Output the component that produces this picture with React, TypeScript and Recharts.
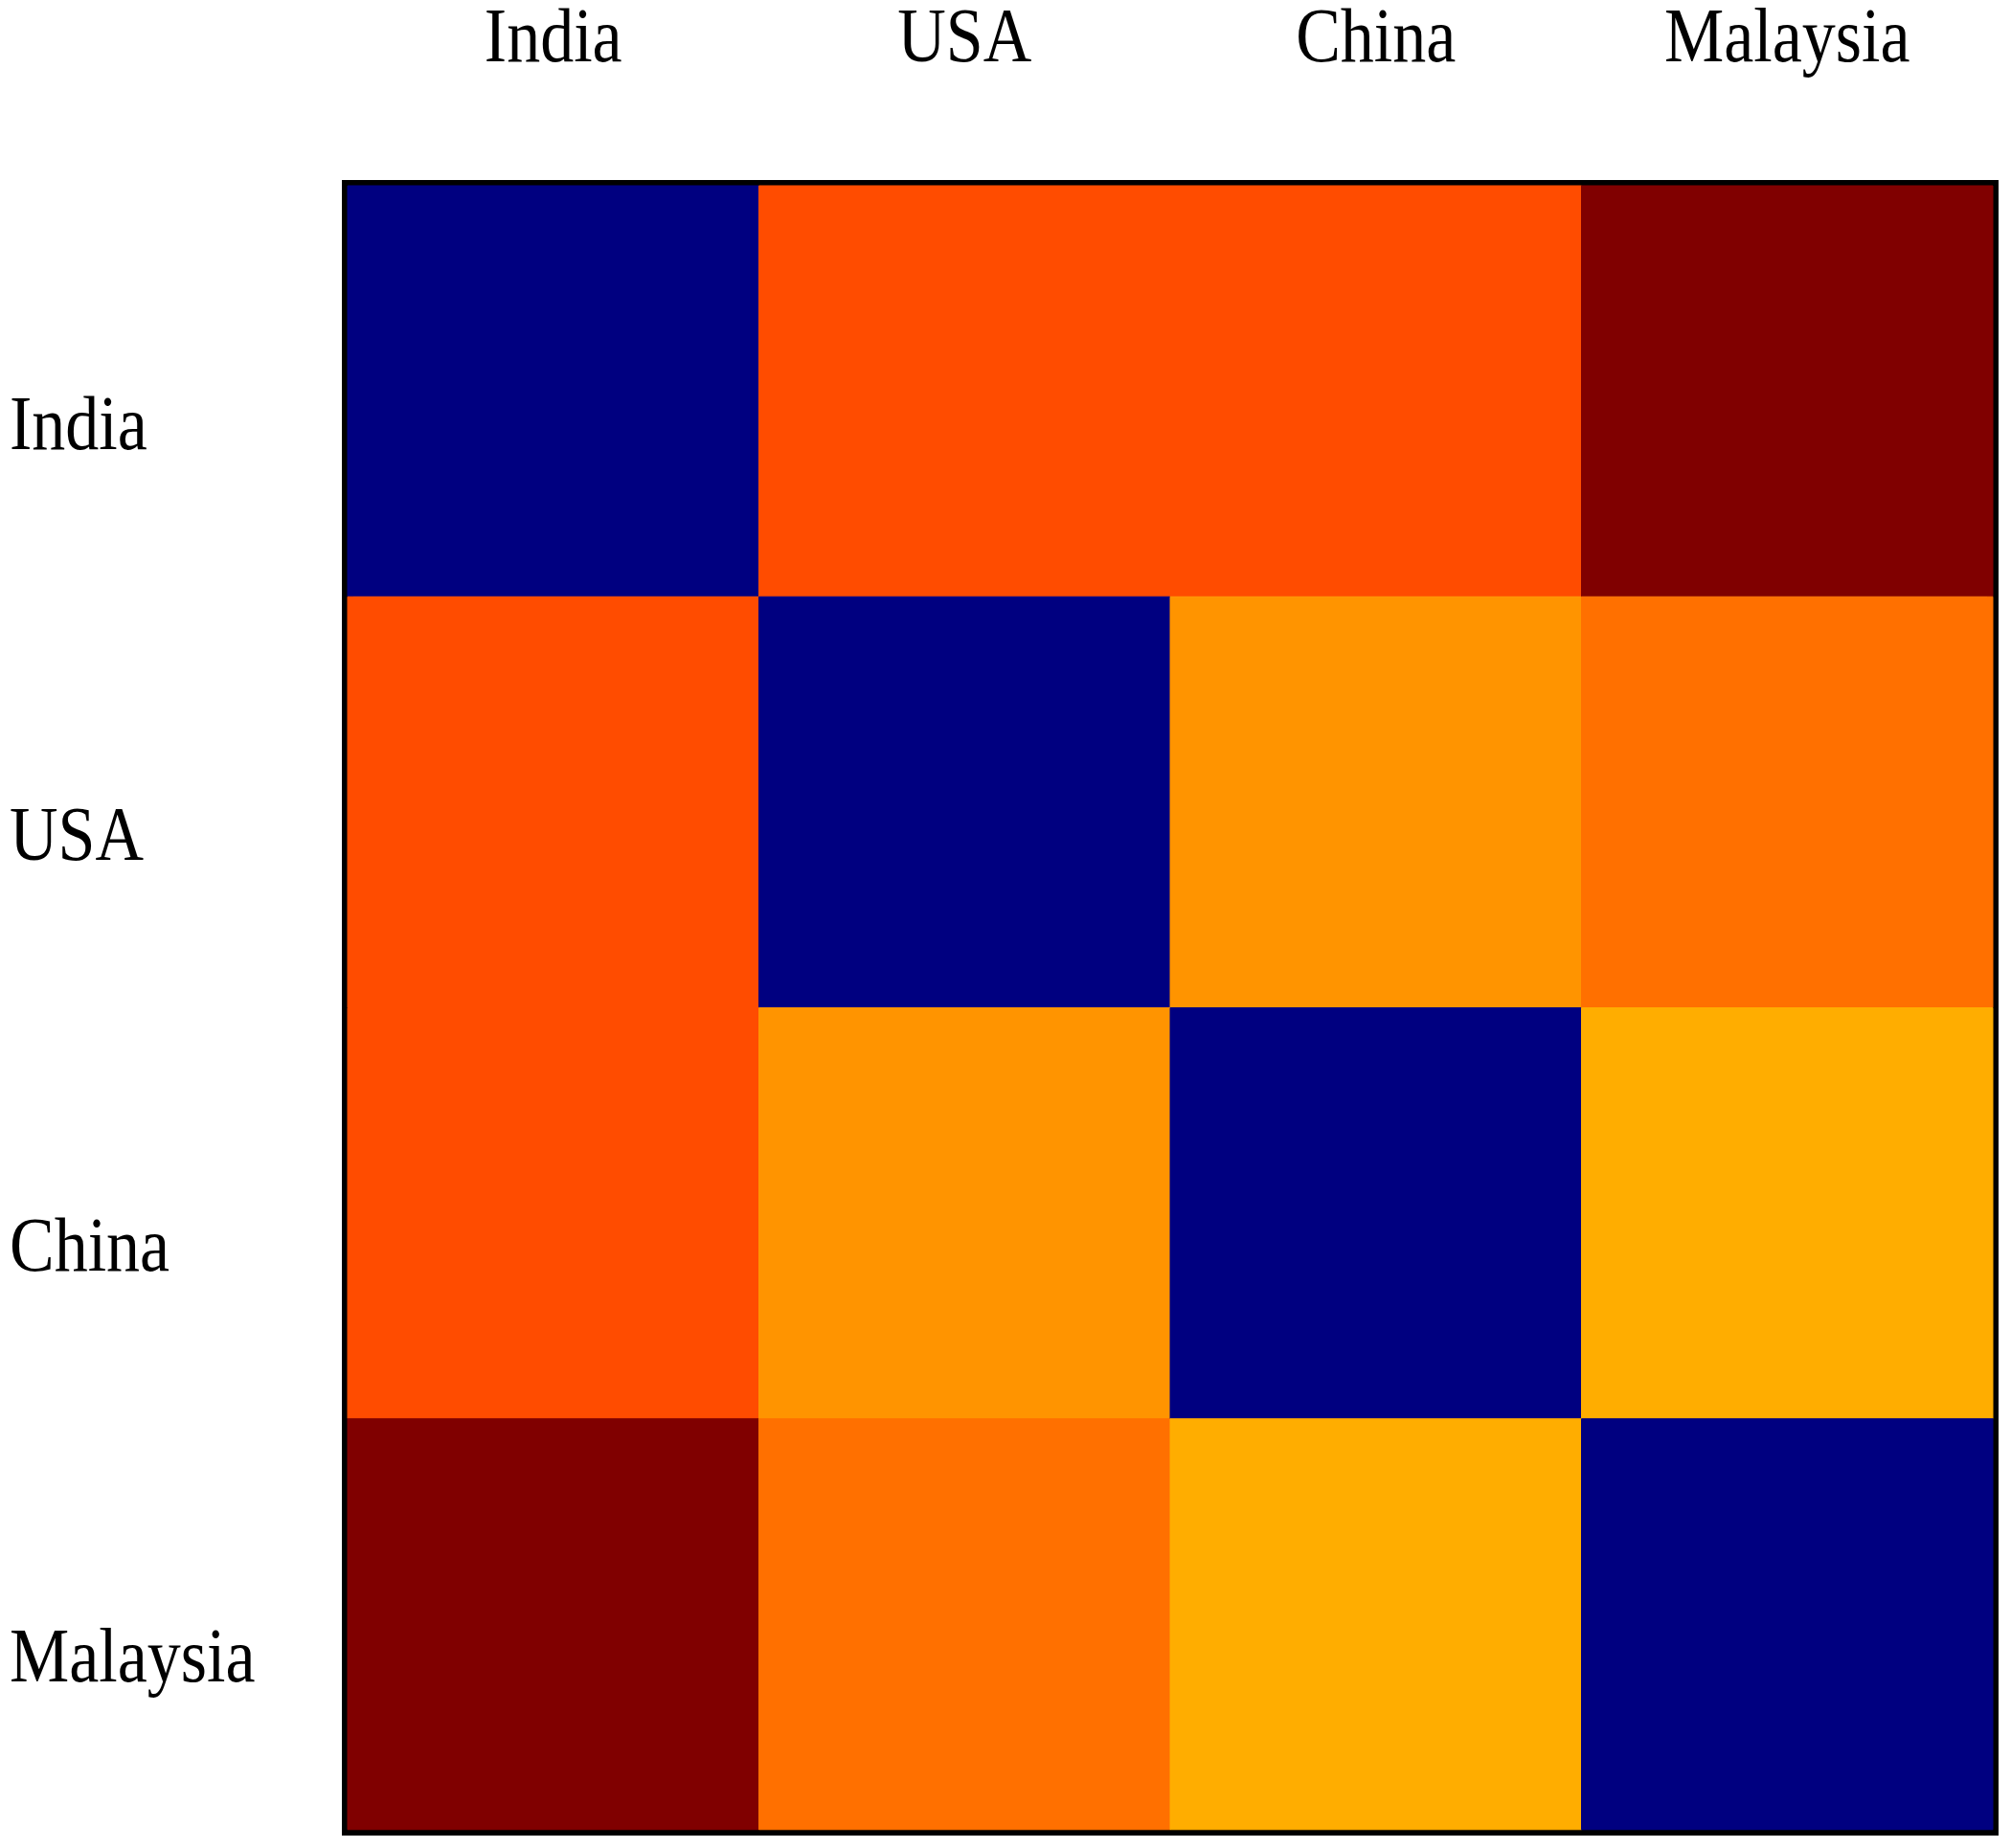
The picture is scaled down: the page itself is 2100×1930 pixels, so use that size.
import React from 'react';
import { BarChart, Bar, XAxis, YAxis, Cell, ReferenceArea } from 'recharts';

const countries = ['India', 'USA', 'China', 'Malaysia'];
// dissimilarity values (0 = identical, 1 = most different)
const indiaRow = [0, 0.8, 0.8, 1.0];
const usaRow = [0.8, 0, 0.73, 0.765];
const chinaRow = [0.8, 0.73, 0, 0.705];
const malaysiaRow = [1.0, 0.765, 0.705, 0];
const matrix = [indiaRow, usaRow, chinaRow, malaysiaRow];
const columnTicks = [0.5, 1.5, 2.5, 3.5];

const clamp = (v: number) => Math.max(0, Math.min(1, v));
const jet = (v: number) => {
  const r = clamp(1.5 - Math.abs(4 * v - 3));
  const g = clamp(1.5 - Math.abs(4 * v - 2));
  const b = clamp(1.5 - Math.abs(4 * v - 1));
  const h = (x: number) => Math.round(x * 255).toString(16).padStart(2, '0');
  return `#${h(r)}${h(g)}${h(b)}`;
};

const data = countries.map((name) => {
  const row: Record<string, any> = { name };
  countries.forEach((_, j) => {
    row[`c${j}`] = 1;
  });
  return row;
});

const FONT = '"Liberation Serif", "Times New Roman", serif';

const TopTick = (props: any) => {
  const { x, y, payload } = props;
  return (
    <g transform={`translate(${x},${y - 122}) scale(1,1.15)`}>
      <text x={0} y={0} textAnchor="middle" fontFamily={FONT} fontSize={70} fill="#000">
        {countries[Math.floor(payload.value)]}
      </text>
    </g>
  );
};

const LeftTick = (props: any) => {
  const { y, payload } = props;
  return (
    <g transform={`translate(10,${y + 60}) scale(1,1.15)`}>
      <text x={0} y={0} textAnchor="start" fontFamily={FONT} fontSize={70} fill="#000">
        {payload.value}
      </text>
    </g>
  );
};

export default function App() {
  return (
    <div style={{ position: 'absolute', left: 0, top: 0, width: 2100, height: 1930, background: '#fff' }}>
      <BarChart
        width={2100}
        height={1930}
        data={data}
        layout="vertical"
        barCategoryGap={0}
        barGap={0}
        margin={{ top: 0, right: 19, bottom: 19, left: 0 }}
      >
        <XAxis
          type="number"
          orientation="top"
          domain={[0, 4]}
          ticks={columnTicks}
          height={194}
          axisLine={false}
          tickLine={false}
          tick={<TopTick />}
          interval={0}
        />
        <YAxis
          type="category"
          dataKey="name"
          width={363}
          axisLine={false}
          tickLine={false}
          tick={<LeftTick />}
          interval={0}
        />
        <ReferenceArea
          x1={0}
          x2={4}
          y1="India"
          y2="Malaysia"
          fill="none"
          fillOpacity={0}
          stroke="#000"
          strokeWidth={12}
          ifOverflow="visible"
        />
        {countries.map((_, j) => (
          <Bar key={j} dataKey={`c${j}`} stackId="heat" isAnimationActive={false}>
            {matrix.map((row, i) => (
              <Cell key={i} fill={jet(row[j])} stroke={jet(row[j])} strokeWidth={1} />
            ))}
          </Bar>
        ))}
      </BarChart>
    </div>
  );
}
